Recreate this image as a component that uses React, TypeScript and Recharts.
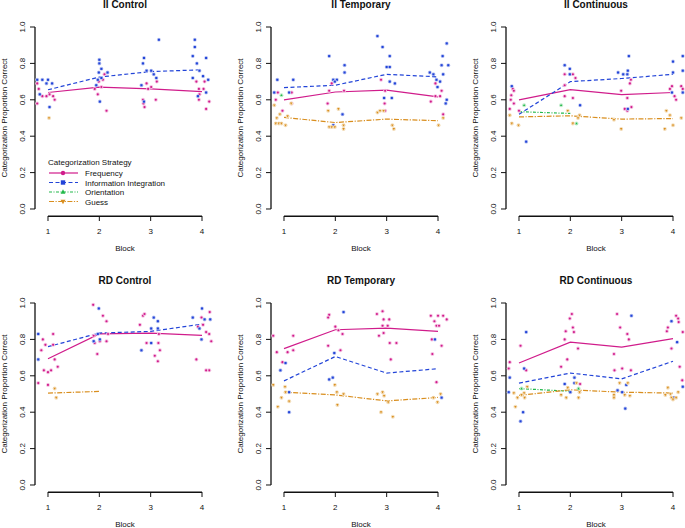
import React from "react";
import {
  ComposedChart,
  Line,
  Scatter,
  XAxis,
  YAxis,
  ReferenceLine,
  Legend,
} from "recharts";

const FONT = '"Liberation Sans", Arial, Helvetica, sans-serif';

const BLOCKS = [1, 2, 3, 4];
const Y_TICKS = [0, 0.2, 0.4, 0.6, 0.8, 1];

// --- II Control
const iiControlFreqMean = [0.64, 0.67, 0.66, 0.645];
const iiControlIIMean = [0.655, 0.725, 0.755, 0.765];
const iiControlFreqPts: [number, number][] = [
  [0.79, 0.69], [0.82, 0.66], [0.79, 0.58], [0.89, 0.62], [0.97, 0.62], [1.03, 0.63], [1.1, 0.62], [1.13, 0.6],
  [1.99, 0.7], [2.04, 0.67], [1.97, 0.63], [2.14, 0.54], [2.07, 0.71], [2.1, 0.74], [1.91, 0.66],
  [2.85, 0.6], [2.86, 0.58], [2.88, 0.56], [2.92, 0.69], [2.95, 0.66], [3.1, 0.6], [3.12, 0.7], [3.01, 0.67],
  [3.89, 0.7], [3.94, 0.66], [3.94, 0.6], [4.05, 0.7], [4.08, 0.55], [4.14, 0.59], [3.95, 0.63], [4.03, 0.66],
];
const iiControlIIPts: [number, number][] = [
  [0.79, 0.71], [0.89, 0.71], [1.0, 0.71], [1.08, 0.69], [0.97, 0.69], [0.84, 0.63], [1.03, 0.56],
  [2.0, 0.82], [2.0, 0.8], [2.16, 0.75], [2.04, 0.77], [1.99, 0.75], [2.04, 0.72], [1.94, 0.68], [2.01, 0.59], [1.97, 0.71],
  [3.16, 0.93], [2.85, 0.8], [2.87, 0.83], [2.92, 0.76], [3.01, 0.76], [3.06, 0.74], [3.11, 0.72], [2.82, 0.68], [2.87, 0.59],
  [3.86, 0.93], [3.86, 0.89], [3.82, 0.84], [3.9, 0.8], [3.95, 0.76], [4.08, 0.83], [4.12, 0.71], [3.92, 0.62], [3.82, 0.72], [4.02, 0.73], [4.08, 0.64],
];
const iiControlGuessPts: [number, number][] = [[1.02, 0.5]];

// --- II Temporary
const iiTempFreqMean = [0.6, 0.643, 0.653, 0.616];
const iiTempIIMean = [0.667, 0.68, 0.74, 0.726];
const iiTempGuessMean = [0.503, 0.475, 0.494, 0.485];
const iiTempFreqPts: [number, number][] = [
  [0.84, 0.6], [0.88, 0.64], [0.97, 0.54], [1.15, 0.64], [1.15, 0.58],
  [1.85, 0.58], [1.88, 0.65], [1.93, 0.69], [2.17, 0.65],
  [2.89, 0.71], [2.96, 0.58], [2.97, 0.54], [2.97, 0.65],
  [3.86, 0.59], [3.95, 0.69], [3.95, 0.62], [4.04, 0.62], [4.07, 0.65], [4.1, 0.52],
];
const iiTempIIPts: [number, number][] = [
  [0.81, 0.64], [0.87, 0.71], [1.1, 0.64], [1.18, 0.71],
  [1.88, 0.84], [1.96, 0.71], [2.03, 0.71], [2.18, 0.79], [2.18, 0.75], [2.14, 0.52], [1.96, 0.46], [1.99, 0.7],
  [2.82, 0.95], [2.92, 0.89], [3.06, 0.84], [3.0, 0.78], [3.06, 0.78], [2.95, 0.61], [3.1, 0.61], [3.06, 0.7], [3.16, 0.69],
  [3.84, 0.75], [3.91, 0.74], [3.97, 0.71], [3.99, 0.67], [4.04, 0.7], [4.07, 0.79], [4.09, 0.84], [4.1, 0.74], [4.15, 0.58], [4.17, 0.6], [4.17, 0.91], [4.2, 0.79],
];
const iiTempOrientPts: [number, number][] = [[0.95, 0.625]];
const iiTempGuessPts: [number, number][] = [
  [0.81, 0.57], [0.86, 0.5], [0.84, 0.47], [0.9, 0.47], [0.95, 0.47], [0.92, 0.52], [1.03, 0.46], [1.07, 0.51], [1.14, 0.58],
  [1.86, 0.54], [1.88, 0.45], [1.93, 0.45], [1.99, 0.45], [2.06, 0.55], [2.16, 0.46], [2.16, 0.44],
  [2.82, 0.53], [2.87, 0.54], [2.94, 0.54], [3.11, 0.46], [3.14, 0.44],
  [4.01, 0.46], [4.1, 0.5],
];

// --- II Continuous
const iiContFreqMean = [0.6, 0.656, 0.629, 0.64];
const iiContIIMean = [0.52, 0.7, 0.717, 0.74];
const iiContOrientMean = [0.535, 0.525];
const iiContGuessMean = [0.506, 0.512, 0.494, 0.497];
const iiContFreqPts: [number, number][] = [
  [0.84, 0.6], [0.85, 0.625], [0.88, 0.66], [0.9, 0.65], [0.9, 0.58], [0.82, 0.55], [1.0, 0.54],
  [1.89, 0.74], [1.89, 0.68], [1.89, 0.62], [2.05, 0.61], [2.05, 0.74], [2.1, 0.72],
  [2.99, 0.65], [3.06, 0.55], [3.11, 0.61], [3.11, 0.54], [3.16, 0.69], [3.18, 0.71], [3.19, 0.56],
  [3.94, 0.66], [3.98, 0.675], [4.03, 0.62], [4.06, 0.6], [4.16, 0.675], [4.19, 0.66],
];
const iiContIIPts: [number, number][] = [
  [0.86, 0.675], [1.14, 0.37],
  [1.89, 0.79], [1.99, 0.77], [1.99, 0.74], [2.19, 0.57],
  [2.93, 0.75], [3.03, 0.74], [3.11, 0.74], [3.12, 0.76], [3.14, 0.84], [3.12, 0.55],
  [4.0, 0.81], [4.0, 0.75], [3.98, 0.64], [4.19, 0.84], [4.19, 0.76], [4.19, 0.64],
];
const iiContOrientPts: [number, number][] = [[1.1, 0.57], [1.82, 0.57], [2.12, 0.47]];
const iiContGuessPts: [number, number][] = [
  [0.82, 0.515], [0.86, 0.47], [0.99, 0.46],
  [1.95, 0.54], [2.05, 0.47], [2.15, 0.5], [2.18, 0.515],
  [2.85, 0.49], [2.99, 0.44],
  [3.87, 0.54], [3.94, 0.515], [4.0, 0.46], [4.16, 0.5], [3.84, 0.44],
];

// --- RD Control
const rdControlFreqMean = [0.694, 0.83, 0.835, 0.822];
const rdControlIIMean = [0.76, 0.835, 0.844, 0.884];
const rdControlGuessMean = [0.505, 0.514];
const rdControlFreqPts: [number, number][] = [
  [0.81, 0.56], [0.87, 0.74], [0.9, 0.8], [0.95, 0.77], [0.92, 0.63], [1.0, 0.62], [1.06, 0.63], [1.1, 0.83], [1.1, 0.77], [1.0, 0.55], [1.13, 0.69], [1.19, 0.65],
  [1.88, 0.99], [1.89, 0.82], [1.91, 0.78], [1.96, 0.72], [2.01, 0.79], [2.07, 0.93], [2.14, 0.9], [2.14, 0.79], [2.17, 0.83],
  [2.79, 0.88], [2.85, 0.93], [2.88, 0.94], [2.92, 0.78], [3.08, 0.71], [3.14, 0.68], [3.18, 0.74], [3.15, 0.78], [3.16, 0.83],
  [3.89, 0.69], [3.99, 0.92], [3.92, 0.87], [4.02, 0.88], [4.08, 0.84], [4.14, 0.83], [4.15, 0.95], [4.18, 0.79], [4.14, 0.63], [4.08, 0.63],
];
const rdControlIIPts: [number, number][] = [
  [0.81, 0.83], [0.81, 0.69],
  [1.99, 0.97], [1.89, 0.79], [1.97, 0.83], [2.01, 0.8],
  [2.82, 0.74], [3.01, 0.78], [3.06, 0.92], [3.14, 0.9], [3.14, 0.86], [3.01, 0.86],
  [4.0, 0.97], [3.99, 0.8], [4.05, 0.91], [4.16, 0.91], [3.82, 0.92], [3.95, 0.86],
];
const rdControlGuessPts: [number, number][] = [[1.13, 0.53], [1.16, 0.48]];

// --- RD Temporary
const rdTempFreqMean = [0.749, 0.853, 0.862, 0.844];
const rdTempIIMean = [0.572, 0.706, 0.615, 0.639];
const rdTempGuessMean = [0.51, 0.495, 0.462, 0.481];
const rdTempFreqPts: [number, number][] = [
  [0.79, 0.82], [0.86, 0.73], [0.97, 0.675], [1.07, 0.73], [1.18, 0.82], [1.18, 0.74],
  [1.86, 0.765], [1.88, 0.935], [1.86, 0.92], [2.0, 0.87], [2.06, 0.85], [2.14, 0.83], [2.1, 0.74],
  [2.81, 0.94], [2.85, 0.82], [2.92, 0.875], [2.92, 0.955], [2.94, 0.91], [2.94, 0.835], [3.02, 0.875], [3.05, 0.91], [3.06, 0.78], [3.08, 0.69], [3.19, 0.78],
  [3.86, 0.93], [3.93, 0.9], [3.97, 0.875], [4.0, 0.93], [3.88, 0.8], [3.89, 0.72], [3.97, 0.565], [4.1, 0.93], [4.07, 0.765], [4.02, 0.875], [4.17, 0.91],
];
const rdTempIIPts: [number, number][] = [
  [0.93, 0.63], [1.03, 0.67], [1.1, 0.51], [1.1, 0.4],
  [1.98, 0.725], [1.88, 0.58], [1.95, 0.59], [2.16, 0.95],
  [3.94, 0.8], [4.07, 0.48],
];
const rdTempGuessPts: [number, number][] = [
  [0.79, 0.55], [0.88, 0.43], [0.95, 0.48], [1.02, 0.54], [1.03, 0.51], [1.1, 0.46],
  [1.99, 0.55], [2.03, 0.51], [2.04, 0.44], [2.16, 0.5],
  [2.82, 0.5], [2.89, 0.4], [2.92, 0.51], [2.95, 0.49], [3.03, 0.455], [3.12, 0.375],
  [3.99, 0.455], [4.05, 0.5], [3.91, 0.48],
];

// --- RD Continuous
const rdContFreqMean = [0.67, 0.785, 0.758, 0.804];
const rdContIIMean = [0.56, 0.615, 0.583, 0.68];
const rdContOrientMean = [0.53, 0.515];
const rdContGuessMean = [0.492, 0.523, 0.51, 0.505];
const rdContFreqPts: [number, number][] = [
  [0.8, 0.64], [0.82, 0.675], [1.03, 0.765], [1.14, 0.63],
  [1.82, 0.65], [1.89, 0.8], [1.91, 0.845], [1.99, 0.915], [2.03, 0.94], [2.05, 0.865], [2.07, 0.84], [1.94, 0.69], [2.15, 0.75], [2.19, 0.555],
  [2.85, 0.72], [2.86, 0.63], [2.91, 0.94], [2.97, 0.865], [3.01, 0.64], [3.11, 0.83], [3.14, 0.8], [3.18, 0.63],
  [3.88, 0.845], [3.9, 0.865], [3.97, 0.75], [4.06, 0.93], [4.1, 0.915], [4.11, 0.895], [4.13, 0.65], [4.18, 0.575], [4.19, 0.84],
];
const rdContIIPts: [number, number][] = [
  [0.8, 0.51], [0.82, 0.59], [1.03, 0.35], [1.08, 0.4], [1.1, 0.64], [1.14, 0.84],
  [1.89, 0.555], [2.0, 0.51], [2.08, 0.56], [2.08, 0.59],
  [2.92, 0.52], [3.01, 0.51], [3.07, 0.42], [3.09, 0.55], [3.19, 0.93],
  [3.97, 0.9], [4.02, 0.48], [4.08, 0.785], [4.19, 0.54],
];
const rdContOrientPts: [number, number][] = [[1.05, 0.53], [2.16, 0.53]];
const rdContGuessPts: [number, number][] = [
  [0.9, 0.505], [0.93, 0.43], [0.97, 0.48], [1.05, 0.495], [1.1, 0.505], [1.11, 0.48], [1.16, 0.54],
  [1.82, 0.495], [1.92, 0.48], [1.95, 0.535], [2.12, 0.56], [2.16, 0.48], [2.18, 0.51],
  [2.85, 0.495], [2.85, 0.48], [2.96, 0.56], [3.06, 0.495], [3.12, 0.56], [3.16, 0.49],
  [3.85, 0.495], [3.9, 0.535], [3.95, 0.5], [3.97, 0.48], [4.0, 0.47], [4.06, 0.48], [4.1, 0.51],
];

const COLORS: Record<string, string> = {
  freq: "#D01C8B",
  ii: "#2244D8",
  orient: "#22B84A",
  guess: "#D98E1E",
};
const HALO: Record<string, string> = {
  freq: "#F5C2E2",
  ii: "#C2CBF3",
  orient: "#BDEBC8",
  guess: "#F3DDB9",
};
const DASH: Record<string, string | undefined> = {
  freq: undefined,
  ii: "4 2.5",
  orient: "3 1.5 1 1.5",
  guess: "5 1.5 1.2 1.5",
};

const LEGEND_ITEMS = [
  { key: "freq", label: "Frequency" },
  { key: "ii", label: "Information Integration" },
  { key: "orient", label: "Orientation" },
  { key: "guess", label: "Guess" },
];

type Series = { key: string; mean?: number[]; pts: [number, number][] };
type Panel = { title: string; series: Series[] };

const PANELS: Panel[] = [
  {
    title: "II Control",
    series: [
      { key: "freq", mean: iiControlFreqMean, pts: iiControlFreqPts },
      { key: "ii", mean: iiControlIIMean, pts: iiControlIIPts },
      { key: "guess", pts: iiControlGuessPts },
    ],
  },
  {
    title: "II Temporary",
    series: [
      { key: "freq", mean: iiTempFreqMean, pts: iiTempFreqPts },
      { key: "ii", mean: iiTempIIMean, pts: iiTempIIPts },
      { key: "orient", pts: iiTempOrientPts },
      { key: "guess", mean: iiTempGuessMean, pts: iiTempGuessPts },
    ],
  },
  {
    title: "II Continuous",
    series: [
      { key: "freq", mean: iiContFreqMean, pts: iiContFreqPts },
      { key: "ii", mean: iiContIIMean, pts: iiContIIPts },
      { key: "orient", mean: iiContOrientMean, pts: iiContOrientPts },
      { key: "guess", mean: iiContGuessMean, pts: iiContGuessPts },
    ],
  },
  {
    title: "RD Control",
    series: [
      { key: "freq", mean: rdControlFreqMean, pts: rdControlFreqPts },
      { key: "ii", mean: rdControlIIMean, pts: rdControlIIPts },
      { key: "guess", mean: rdControlGuessMean, pts: rdControlGuessPts },
    ],
  },
  {
    title: "RD Temporary",
    series: [
      { key: "freq", mean: rdTempFreqMean, pts: rdTempFreqPts },
      { key: "ii", mean: rdTempIIMean, pts: rdTempIIPts },
      { key: "guess", mean: rdTempGuessMean, pts: rdTempGuessPts },
    ],
  },
  {
    title: "RD Continuous",
    series: [
      { key: "freq", mean: rdContFreqMean, pts: rdContFreqPts },
      { key: "ii", mean: rdContIIMean, pts: rdContIIPts },
      { key: "orient", mean: rdContOrientMean, pts: rdContOrientPts },
      { key: "guess", mean: rdContGuessMean, pts: rdContGuessPts },
    ],
  },
];

const PANEL_W = 236;
const PANEL_H = 276;
const COL_X = [0, 236, 471];
const ROW_Y = [0, 276];
const X_DOMAIN: [number, number] = [0.747, 4.253];
const Y_DOMAIN: [number, number] = [-0.0385, 1.0385];

const marker = (key: string, cx: number, cy: number, s: number) => {
  const c = COLORS[key];
  if (key === "freq") return <circle cx={cx} cy={cy} r={s} fill={c} />;
  if (key === "ii") return <rect x={cx - s} y={cy - s} width={2 * s} height={2 * s} fill={c} />;
  if (key === "orient")
    return <polygon points={`${cx},${cy - s * 1.2} ${cx - s * 1.1},${cy + s * 0.8} ${cx + s * 1.1},${cy + s * 0.8}`} fill={c} />;
  return <polygon points={`${cx},${cy + s * 1.2} ${cx - s * 1.1},${cy - s * 0.8} ${cx + s * 1.1},${cy - s * 0.8}`} fill={c} />;
};

const pointShape = (key: string) => (props: any) => {
  const { cx, cy } = props;
  if (cx == null || cy == null) return <g />;
  return (
    <g>
      <circle cx={cx} cy={cy} r={2} fill={HALO[key]} />
      {marker(key, cx, cy, 1.05)}
    </g>
  );
};

const YTick = (props: any) => {
  const { x, y, payload } = props;
  return (
    <text
      x={x}
      y={y}
      transform={`rotate(-90, ${x}, ${y})`}
      textAnchor="middle"
      fontSize={8}
      fill="#111"
      fontFamily={FONT}
    >
      {Number(payload.value).toFixed(1)}
    </text>
  );
};

const StrategyLegend = () => (
  <svg width={140} height={52} style={{ display: "block", fontFamily: FONT }}>
    <text x={3} y={10} fontSize={8} fill="#111">
      Categorization Strategy
    </text>
    {LEGEND_ITEMS.map((it, i) => {
      const cy = 18 + i * 9.5;
      return (
        <g key={it.key}>
          <line x1={4} x2={33} y1={cy} y2={cy} stroke={COLORS[it.key]} strokeWidth={1.2} strokeDasharray={DASH[it.key]} />
          {marker(it.key, 18, cy, 2.2)}
          <text x={40} y={cy + 3} fontSize={8} fill="#111">
            {it.label}
          </text>
        </g>
      );
    })}
  </svg>
);

const PanelChart = ({ panel, showLegend }: { panel: Panel; showLegend: boolean }) => (
  <div style={{ position: "relative", width: PANEL_W, height: PANEL_H }}>
    <div
      style={{
        position: "absolute",
        left: 35,
        width: 180,
        top: 0,
        textAlign: "center",
        fontFamily: FONT,
        fontWeight: "bold",
        fontSize: 10,
        lineHeight: "10px",
        color: "#111",
        zIndex: 2,
      }}
    >
      {panel.title}
    </div>
    <ComposedChart width={PANEL_W} height={PANEL_H} margin={{ top: 20, right: 21, bottom: 0, left: 0 }}>
      <XAxis
        type="number"
        dataKey="x"
        domain={X_DOMAIN}
        ticks={BLOCKS}
        allowDataOverflow
        height={60}
        axisLine={false}
        stroke="#111"
        tickSize={5}
        tickMargin={7}
        tick={{ fontSize: 8, fill: "#111", fontFamily: FONT }}
        label={{ value: "Block", position: "insideBottom", offset: 25, style: { fontSize: 8, fill: "#111", fontFamily: FONT } }}
      />
      <YAxis
        type="number"
        dataKey="y"
        domain={Y_DOMAIN}
        ticks={Y_TICKS}
        allowDataOverflow
        width={35}
        axisLine={false}
        stroke="#111"
        tickSize={5}
        tickMargin={5}
        tick={(p: any) => <YTick {...p} />}
        label={{
          value: "Categorization Proportion Correct",
          angle: -90,
          position: "insideLeft",
          offset: 4,
          style: { fontSize: 8, fill: "#111", fontFamily: FONT, textAnchor: "middle" },
        }}
      />
      <ReferenceLine segment={[{ x: 1, y: -0.04 }, { x: 4, y: -0.04 }]} stroke="#111" strokeWidth={1.3} ifOverflow="visible" />
      <ReferenceLine segment={[{ x: X_DOMAIN[0], y: 0 }, { x: X_DOMAIN[0], y: 1 }]} stroke="#111" strokeWidth={1.3} ifOverflow="visible" />
      {panel.series.map((s) => (
        <Scatter
          key={"pts-" + s.key}
          data={s.pts.map(([x, y]) => ({ x, y }))}
          shape={pointShape(s.key)}
          legendType="none"
          isAnimationActive={false}
        />
      ))}
      {panel.series
        .filter((s) => s.mean)
        .map((s) => (
          <Line
            key={"mean-" + s.key}
            data={(s.mean as number[]).map((y, i) => ({ x: BLOCKS[i], y }))}
            dataKey="y"
            stroke={COLORS[s.key]}
            strokeWidth={1.2}
            strokeDasharray={DASH[s.key]}
            dot={false}
            activeDot={false}
            legendType="none"
            isAnimationActive={false}
          />
        ))}
      {showLegend && (
        <Legend
          layout="horizontal"
          align="center"
          verticalAlign="middle"
          content={() => <StrategyLegend />}
          wrapperStyle={{ left: 45, top: 155, width: 140, height: 52 }}
        />
      )}
    </ComposedChart>
  </div>
);

export default function App() {
  return (
    <div
      style={{
        position: "absolute",
        left: 0,
        top: 0,
        width: 685,
        height: 528,
        overflow: "hidden",
        background: "#fff",
      }}
    >
      {PANELS.map((p, i) => (
        <div key={p.title} style={{ position: "absolute", left: COL_X[i % 3], top: ROW_Y[Math.floor(i / 3)] }}>
          <PanelChart panel={p} showLegend={i === 0} />
        </div>
      ))}
    </div>
  );
}
